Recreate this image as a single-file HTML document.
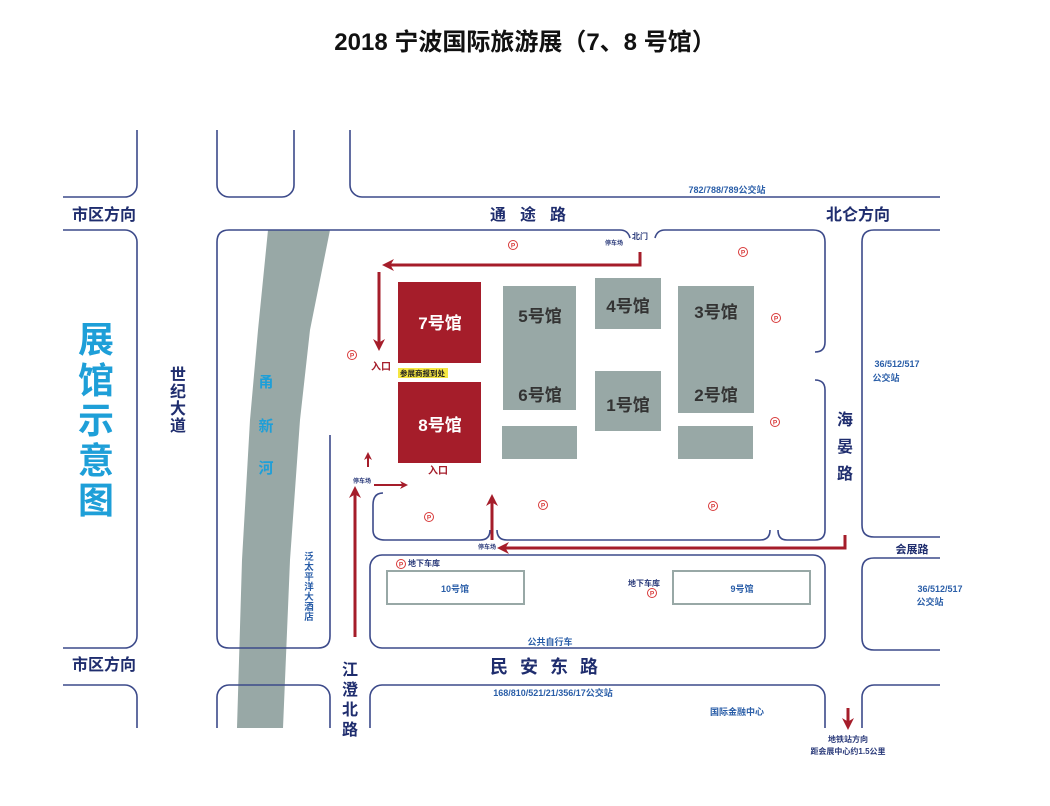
<!DOCTYPE html>
<html><head><meta charset="utf-8"><style>
body{margin:0;background:#fff;}
svg{display:block;font-family:"Liberation Sans","Noto Sans CJK SC",sans-serif;font-weight:bold;}
</style></head><body>
<svg width="1050" height="806" viewBox="0 0 1050 806" xmlns="http://www.w3.org/2000/svg">
<defs>
<clipPath id="c"><rect x="63" y="130" width="877" height="598"/></clipPath>
<marker id="ah" viewBox="0 0 10 10" refX="5" refY="5" markerWidth="4" markerHeight="4" orient="auto-start-reverse"><path d="M0,0 L10,5 L0,10 L3,5 z" fill="#a51d2a"/></marker>
</defs>
<text x="525" y="50" text-anchor="middle" font-size="24" fill="#111">2018 宁波国际旅游展（7、8 号馆）</text>

<polygon points="268,230 330,230 310,330 300,420 290,560 283,728 237,728 242,560 250,420 258,330" fill="#98a8a6"/>

<g clip-path="url(#c)" fill="none" stroke="#3c4a8a" stroke-width="1.6">
<rect x="30" y="90" width="107" height="107" rx="12"/>
<rect x="217" y="90" width="77" height="107" rx="12"/>
<rect x="350" y="90" width="640" height="107" rx="12"/>
<rect x="30" y="230" width="107" height="418" rx="12"/>
<path d="M620,230 H229 Q217,230 217,242 V636 Q217,648 229,648 H318 Q330,648 330,636 V435"/>
<path d="M620,230 Q628,230 630,238"/>
<path d="M655,238 Q657,230 665,230 H813 Q825,230 825,242 V342 Q825,352 815,352"/>
<path d="M815,380 Q825,380 825,390 V530 Q825,540 815,540 H787 Q778,540 778,530"/>
<path d="M770,530 Q770,540 760,540 H507 Q497,540 497,530"/>
<path d="M490,530 Q490,540 480,540 H385 Q373,540 373,530 V505 Q373,493 383,493"/>
<rect x="370" y="555" width="455" height="93" rx="12"/>
<path d="M990,230 H874 Q862,230 862,242 V525 Q862,537 874,537 H990"/>
<path d="M990,558 H874 Q862,558 862,570 V638 Q862,650 874,650 H990"/>
<rect x="30" y="685" width="107" height="100" rx="12"/>
<rect x="217" y="685" width="113" height="100" rx="12"/>
<rect x="370" y="685" width="455" height="100" rx="12"/>
<rect x="862" y="685" width="128" height="100" rx="12"/>
</g>

<!-- halls -->
<rect x="398" y="282" width="83" height="81" fill="#a51d2a"/>
<rect x="398" y="382" width="83" height="81" fill="#a51d2a"/>
<rect x="503" y="286" width="73" height="124" fill="#98a8a6"/>
<rect x="502" y="426" width="75" height="33" fill="#98a8a6"/>
<rect x="595" y="278" width="66" height="51" fill="#98a8a6"/>
<rect x="595" y="371" width="66" height="60" fill="#98a8a6"/>
<rect x="678" y="286" width="76" height="127" fill="#98a8a6"/>
<rect x="678" y="426" width="75" height="33" fill="#98a8a6"/>
<g font-size="17" text-anchor="middle">
<text x="440" y="329" fill="#fff">7号馆</text>
<text x="440" y="431" fill="#fff">8号馆</text>
<text x="540" y="322" fill="#333">5号馆</text>
<text x="540" y="401" fill="#333">6号馆</text>
<text x="628" y="312" fill="#333">4号馆</text>
<text x="628" y="411" fill="#333">1号馆</text>
<text x="716" y="318" fill="#333">3号馆</text>
<text x="716" y="401" fill="#333">2号馆</text>
</g>
<rect x="398" y="368" width="50" height="10" fill="#f5e642"/>
<text x="400" y="376" font-size="7.5" fill="#222">参展商报到处</text>

<rect x="387" y="571" width="137" height="33" fill="none" stroke="#98a8a6" stroke-width="2"/>
<rect x="673" y="571" width="137" height="33" fill="none" stroke="#98a8a6" stroke-width="2"/>
<g font-size="9" fill="#2a5ea8" text-anchor="middle">
<text x="455" y="592">10号馆</text>
<text x="742" y="592">9号馆</text>
<text x="550" y="645">公共自行车</text>
<text x="553" y="696">168/810/521/21/356/17公交站</text>
<text x="737" y="715">国际金融中心</text>
<text x="727" y="193">782/788/789公交站</text>
<text x="897" y="367">36/512/517</text>
<text x="886" y="381">公交站</text>
<text x="940" y="592">36/512/517</text>
<text x="930" y="605">公交站</text>
</g>
<g font-size="8" fill="#2a3a7a" text-anchor="middle">
<text x="424" y="566">地下车库</text>
<text x="644" y="586">地下车库</text>
<text x="848" y="742">地铁站方向</text>
<text x="848" y="754">距会展中心约1.5公里</text>
<text x="640" y="239">北门</text>
</g>
<g font-size="6" fill="#2a3a7a" text-anchor="middle">
<text x="614" y="245">停车场</text>
<text x="362" y="483">停车场</text>
<text x="487" y="549">停车场</text>
</g>
<g font-size="10" fill="#a51d2a" text-anchor="middle">
<text x="381" y="370">入口</text>
<text x="438" y="474">入口</text>
</g>
<!-- parking P -->
<g fill="none" stroke="#d83a3a" stroke-width="1">
<circle cx="513" cy="245" r="4.5"/><circle cx="352" cy="355" r="4.5"/><circle cx="743" cy="252" r="4.5"/>
<circle cx="776" cy="318" r="4.5"/><circle cx="775" cy="422" r="4.5"/><circle cx="429" cy="517" r="4.5"/>
<circle cx="543" cy="505" r="4.5"/><circle cx="713" cy="506" r="4.5"/><circle cx="401" cy="564" r="4.5"/>
<circle cx="652" cy="593" r="4.5"/>
</g>
<g font-size="6.5" fill="#d83a3a" text-anchor="middle">
<text x="513" y="247.5">P</text><text x="352" y="357.5">P</text><text x="743" y="254.5">P</text>
<text x="776" y="320.5">P</text><text x="775" y="424.5">P</text><text x="429" y="519.5">P</text>
<text x="543" y="507.5">P</text><text x="713" y="508.5">P</text><text x="401" y="566.5">P</text>
<text x="652" y="595.5">P</text>
</g>

<!-- arrows -->
<g fill="none" stroke="#a51d2a" stroke-width="3">
<path d="M640,252 V265 H388" marker-end="url(#ah)"/>
<path d="M379,272 V345" marker-end="url(#ah)"/>
<path d="M355,637 V492" marker-end="url(#ah)"/>
<path d="M845,535 V548 H503" marker-end="url(#ah)"/>
<path d="M492,540 V500" marker-end="url(#ah)"/>
<path d="M848,708 V724" marker-end="url(#ah)"/>
</g>
<g fill="none" stroke="#a51d2a" stroke-width="2">
<path d="M374,485 H404" marker-end="url(#ah)"/>
<path d="M368,467 V456" marker-end="url(#ah)"/>
</g>

<!-- road labels -->
<g font-size="16" fill="#1f2d6e">
<text x="72" y="220">市区方向</text>
<text x="72" y="670">市区方向</text>
<text x="826" y="220">北仑方向</text>
<text x="490" y="220" letter-spacing="14">通途路</text>
<text x="490" y="673" letter-spacing="12" font-size="18">民安东路</text>
</g>
<g font-size="16" fill="#1f2d6e" text-anchor="middle">
<text x="178" y="380">世</text><text x="178" y="397">纪</text><text x="178" y="414">大</text><text x="178" y="431">道</text>
<text x="845" y="425">海</text><text x="845" y="452">晏</text><text x="845" y="479">路</text>
<text x="350" y="675">江</text><text x="350" y="695">澄</text><text x="350" y="715">北</text><text x="350" y="735">路</text>
</g>
<text x="912" y="553" font-size="11" fill="#1f2d6e" text-anchor="middle">会展路</text>
<g font-size="15" fill="#1e9fd8" text-anchor="middle">
<text x="266" y="387">甬</text><text x="266" y="431">新</text><text x="266" y="473">河</text>
</g>
<g font-size="9.5" fill="#2a5ea8" text-anchor="middle">
<text x="309" y="560">泛</text><text x="309" y="570">太</text><text x="309" y="580">平</text><text x="309" y="590">洋</text>
<text x="309" y="600">大</text><text x="309" y="610">酒</text><text x="309" y="620">店</text>
</g>
<g font-size="36" fill="#1e9fd8" text-anchor="middle">
<text x="96" y="352">展</text><text x="96" y="393">馆</text><text x="96" y="433">示</text><text x="96" y="473">意</text><text x="96" y="513">图</text>
</g>
</svg>
</body></html>
